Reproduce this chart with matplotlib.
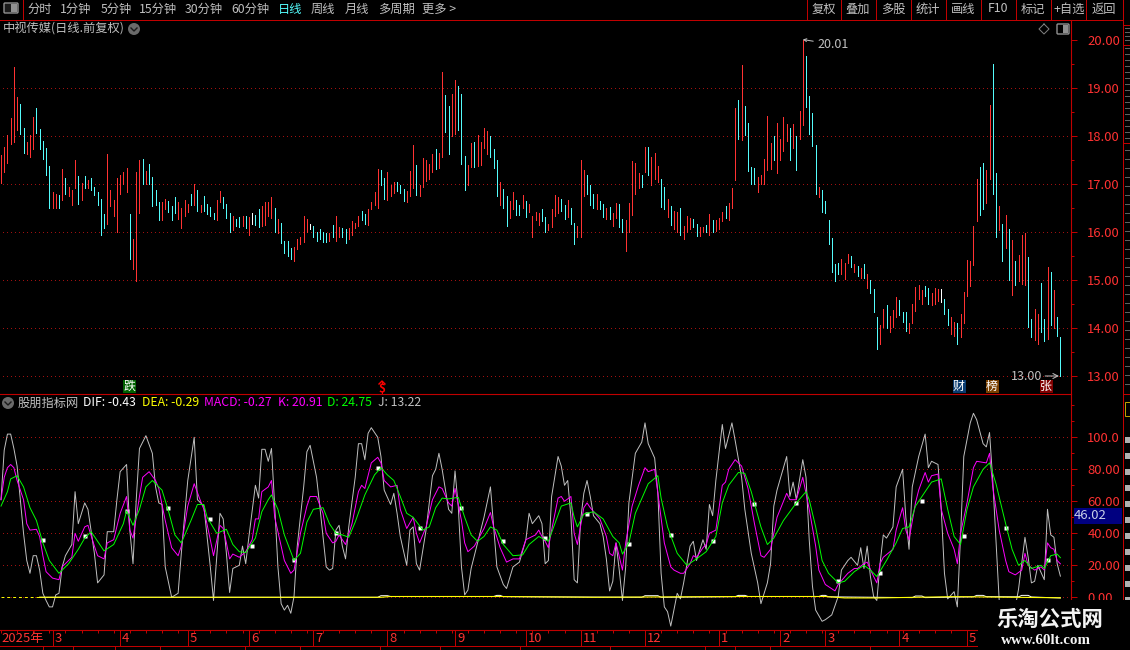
import matplotlib
matplotlib.use("Agg")
import matplotlib.pyplot as plt
from matplotlib.patches import Rectangle, Circle, FancyBboxPatch
from matplotlib.ticker import FixedLocator, FixedFormatter, MultipleLocator

plt.rcParams['font.family'] = ['Noto Sans CJK SC', 'DejaVu Sans']

# 日线 high / low / colour, one entry per bar
highs = [
    17.61, 17.78, 18.03, 18.38, 19.44, 18.82, 18.67, 18.17, 17.88, 18.03,
    18.40, 18.59, 18.15, 17.90, 17.76, 17.38, 16.84, 16.80, 16.78, 17.32,
    17.13, 16.94, 16.88, 17.49, 17.17, 17.03, 17.17, 17.09, 17.13, 16.94,
    16.84, 16.69, 16.38, 17.63, 16.88, 16.67, 17.13, 17.19, 17.26, 17.34,
    16.38, 15.86, 17.26, 17.49, 17.53, 17.28, 17.42, 17.15, 16.88, 16.63,
    16.63, 16.69, 16.65, 16.55, 16.72, 16.63, 16.51, 16.67, 16.59, 16.80,
    16.99, 16.88, 16.57, 16.76, 16.59, 16.53, 16.40, 16.67, 16.86, 16.72,
    16.59, 16.40, 16.34, 16.28, 16.32, 16.34, 16.34, 16.32, 16.40, 16.36,
    16.47, 16.55, 16.63, 16.63, 16.72, 16.51, 16.28, 16.19, 15.82, 15.82,
    15.67, 15.69, 15.86, 15.90, 16.34, 16.28, 16.17, 16.13, 15.99, 16.07,
    16.01, 15.97, 15.97, 16.15, 16.34, 16.11, 16.09, 16.07, 16.09, 16.22,
    16.19, 16.34, 16.44, 16.38, 16.47, 16.63, 16.84, 17.32, 17.30, 17.13,
    17.24, 16.97, 17.05, 17.05, 16.97, 16.90, 16.86, 17.28, 17.82, 17.40,
    16.97, 17.55, 17.49, 17.42, 17.63, 17.72, 17.65, 19.34, 18.86, 18.63,
    18.88, 19.17, 19.05, 18.88, 17.59, 17.40, 17.86, 17.88, 18.03, 17.88,
    18.17, 18.11, 17.99, 17.72, 17.51, 17.05, 16.90, 16.76, 16.65, 16.84,
    16.67, 16.57, 16.78, 16.65, 16.59, 16.34, 16.42, 16.40, 16.47, 16.32,
    16.17, 16.47, 16.78, 16.72, 16.69, 16.57, 16.67, 16.49, 16.19, 16.13,
    17.49, 17.30, 17.19, 16.97, 16.80, 16.80, 16.65, 16.59, 16.49, 16.53,
    16.40, 16.61, 16.59, 16.28, 16.26, 16.61, 17.47, 17.44, 17.22, 17.19,
    17.78, 17.78, 17.57, 17.65, 17.38, 17.11, 16.94, 16.69, 16.55, 16.44,
    16.42, 16.49, 16.13, 16.34, 16.30, 16.28, 16.17, 16.11, 16.11, 16.15,
    16.38, 16.26, 16.26, 16.30, 16.42, 16.55, 16.61, 16.92, 18.59, 18.74,
    19.47, 18.63, 18.28, 17.36, 17.34, 17.15, 17.19, 17.53, 18.42, 17.86,
    17.99, 18.28, 17.94, 18.40, 18.26, 18.17, 18.26, 18.01, 18.53, 20.01,
    19.67, 18.84, 18.47, 17.82, 16.94, 16.88, 16.65, 16.26, 15.88, 15.34,
    15.36, 15.44, 15.36, 15.55, 15.49, 15.34, 15.30, 15.24, 15.34, 15.13,
    15.01, 14.82, 14.22, 14.07, 14.40, 14.47, 14.26, 14.38, 14.65, 14.59,
    14.34, 14.34, 14.11, 14.51, 14.86, 14.90, 14.80, 14.88, 14.84, 14.72,
    14.84, 14.82, 14.82, 14.61, 14.40, 14.22, 14.13, 14.11, 14.30, 14.76,
    15.42, 15.40, 16.13, 17.11, 17.36, 17.44, 17.30, 18.65, 19.51, 17.22,
    16.55, 16.17, 16.36, 16.07, 15.84, 15.40, 15.53, 15.94, 15.97, 15.47,
    14.19, 14.40, 14.30, 14.94, 14.19, 15.28, 15.17, 14.80, 14.22, 13.82,
]
lows = [
    17.03, 17.26, 17.44, 17.84, 17.88, 18.13, 18.05, 17.65, 17.63, 17.57,
    17.72, 18.07, 17.72, 17.53, 17.19, 16.49, 16.49, 16.51, 16.49, 16.67,
    16.80, 16.74, 16.57, 16.92, 16.59, 16.67, 16.92, 16.92, 16.88, 16.78,
    16.57, 15.94, 16.09, 16.17, 16.55, 16.34, 15.99, 16.80, 16.99, 16.84,
    15.44, 15.22, 14.98, 16.40, 16.99, 17.01, 16.99, 16.55, 16.57, 16.26,
    16.26, 16.47, 16.42, 16.26, 16.40, 16.28, 16.09, 16.34, 16.42, 16.57,
    16.57, 16.44, 16.42, 16.44, 16.38, 16.34, 16.28, 16.26, 16.63, 16.51,
    16.30, 16.01, 16.05, 16.13, 16.11, 16.13, 16.09, 15.94, 16.17, 16.15,
    16.11, 16.13, 16.15, 16.34, 16.30, 15.99, 15.97, 15.78, 15.57, 15.49,
    15.44, 15.40, 15.65, 15.76, 15.80, 15.99, 16.07, 15.90, 15.82, 15.86,
    15.80, 15.80, 15.82, 15.90, 15.82, 15.90, 15.90, 15.78, 15.86, 15.94,
    16.09, 16.13, 16.24, 16.17, 16.15, 16.47, 16.57, 16.49, 16.97, 16.69,
    16.67, 16.76, 16.82, 16.86, 16.82, 16.65, 16.63, 16.74, 16.92, 16.78,
    16.74, 16.94, 17.07, 17.11, 17.24, 17.32, 17.34, 17.57, 18.09, 17.63,
    18.01, 18.05, 18.13, 17.42, 16.88, 16.97, 17.36, 17.36, 17.38, 17.40,
    17.74, 17.63, 17.57, 17.34, 16.74, 16.57, 16.51, 16.13, 16.30, 16.47,
    16.36, 16.36, 16.49, 16.32, 16.42, 15.90, 16.24, 16.15, 16.22, 15.99,
    16.05, 16.11, 16.34, 16.40, 16.44, 16.28, 16.32, 16.17, 15.74, 15.90,
    15.90, 16.74, 16.80, 16.57, 16.49, 16.47, 16.47, 16.32, 16.28, 16.28,
    16.13, 16.30, 16.11, 15.99, 15.61, 15.99, 16.36, 16.80, 16.92, 16.94,
    17.26, 17.19, 16.97, 17.11, 17.05, 16.53, 16.47, 16.32, 16.15, 16.07,
    16.01, 15.94, 15.86, 16.01, 16.07, 16.11, 15.92, 15.92, 16.01, 16.01,
    15.94, 16.01, 16.03, 16.07, 16.22, 16.30, 16.24, 16.49, 17.09, 17.94,
    17.92, 18.03, 17.28, 16.99, 16.99, 16.84, 17.01, 17.01, 17.30, 17.32,
    17.51, 17.22, 17.51, 17.69, 17.90, 17.49, 17.74, 17.30, 17.94, 18.22,
    18.61, 18.05, 17.80, 16.80, 16.72, 16.42, 16.40, 15.74, 15.17, 14.97,
    15.13, 15.13, 15.03, 15.36, 15.28, 15.17, 15.09, 15.05, 15.05, 14.84,
    14.72, 14.34, 13.57, 13.67, 14.03, 14.01, 13.92, 14.03, 14.22, 14.28,
    14.13, 13.94, 13.90, 14.11, 14.36, 14.61, 14.49, 14.67, 14.51, 14.47,
    14.51, 14.57, 14.55, 14.30, 14.07, 13.88, 13.84, 13.67, 13.82, 14.11,
    14.67, 14.88, 15.32, 16.22, 16.36, 16.47, 16.61, 17.11, 16.80, 15.90,
    16.05, 15.40, 15.67, 14.99, 14.69, 14.90, 14.97, 14.92, 14.90, 14.03,
    13.82, 13.74, 13.67, 13.92, 13.72, 13.78, 14.07, 13.99, 13.84, 13.00,
]
bar_kinds = (
    "RRRRRRCCRR" "RCCCCCRRCR" "CRRRCRCRCC" "CCCRRRRRRR" "CRRRCRCCCC"
    "RRCCCRRRRC" "RCRCCCCRRC" "CCRCCRCRWC" "CRRRRCRCCC" "CRRRRRWCCC"
    "CCRCRRCCRR" "RRCCRRRRCC" "RRRCCCRRRC" "RRRRRCRRCC" "RRCCCRRCRR"
    "RRCCCRCCRR" "CCRCRRRRCC" "RRRRCCRCCR" "RRCCCRCCRC" "RRCCRRRRRC"
    "RCRRRCCRCR" "RCRRRCCRRC" "RCRRRCRRRC" "RCCCCRRRRR" "CRRRRCRCRR"
    "CCCCRCCCCC" "CRRRCRCRCR" "CCCRRCRRRC" "CCRRRRRCCR" "RRWCCRRCRR"
    "RRRRCCRRCC" "RCRCRCRRRC" "CRRCCRCRCC"
)
price_ticks = [13, 14, 15, 16, 17, 18, 19, 20]

# KDJ read at the turning points
j_bars = [0, 1, 2, 3, 4, 5, 6, 7, 8, 9, 10, 11, 12, 13, 14, 15, 16, 17, 18, 19, 20, 22, 23, 24, 26, 27, 29, 30, 32, 33, 35, 36, 37, 39, 40, 41, 42, 43, 45, 47, 48, 49, 50, 51, 53, 55, 56, 58, 60, 61, 63, 65, 66, 68, 69, 70, 71, 72, 74, 75, 76, 77, 79, 80, 81, 82, 83,
          84, 85, 86, 87, 88, 89, 90, 91, 92, 94, 95, 96, 98, 99, 100, 101, 102, 103, 104, 105, 106, 107, 108, 110, 111, 112, 113, 114, 115, 117, 118, 119, 121, 122, 123, 124, 126, 127, 128, 129, 130, 132, 134, 135, 136, 137, 139, 140, 141, 142, 143, 144, 145, 146, 148, 150, 152, 153, 154, 156, 157, 159, 161, 163, 164, 165, 167,
          168, 169, 170, 171, 173, 174, 175, 176, 177, 178, 179, 180, 181, 182, 183, 184, 186, 187, 188, 189, 190, 191, 192, 193, 194, 195, 197, 199, 200, 201, 203, 204, 205, 206, 207, 208, 210, 211, 212, 214, 215, 216, 218, 219, 220, 221, 222, 224, 225, 227, 228, 230, 231, 233, 235, 236, 238, 239, 240, 241, 244, 245, 246, 247, 249, 250, 251,
          252, 253, 255, 256, 258, 260, 261, 263, 264, 266, 267, 268, 269, 270, 271, 272, 273, 274, 275, 277, 278, 280, 281, 282, 283, 285, 287, 288, 289, 291, 292, 293, 294, 296, 297, 298, 299, 301, 302, 303, 305, 306, 307, 308, 309, 310, 312, 314, 315, 316, 318, 319, 320, 321, 322, 324, 325, 326, 327, 328, 329]
j_vals = [61, 92, 102, 102, 93, 82, 61, 40, 23, 15, 26, 26, 17, 2.5, -2, -6, -6, 1.5, 2.5, 19, 26, 33, 66, 46, 59, 55, 27.5, 9, 14, 41, 41, 61, 78.5, 83, 42, 21, 61, 93, 101, 90, 69, 59, 58, 19, 0, 2.5, 27.5, 73, 100, 61, 57, 19, -2, 52.5, 49, 27.5, 3, 18, 20, 32, 21, 38, 70, 62, 92.5, 92.5, 85,
          93, 57, 19, -4, -8, -5, -10, 0.5, 32, 69, 91, 95, 75, 57, 38, 19, 17, 18, 42, 45, 32, 24, 44, 75, 96, 96, 86, 102.5, 106, 100, 88, 67, 58, 65, 52.5, 38, 20, 42, 44, 21, 17, 42, 76, 80, 90, 80, 55, 52.5, 79, 57, 19, 1.5, 4.5, 18, 34, 50, 69, 44, 19, 8, 5.5, 19, 22, 36, 52.5, 46, 51,
          46, 21, 23, 63, 88, 82, 70, 73, 50, 11, 9, 48, 65, 73, 63, 51, 46, 38, 24, 4, 10, 34, 17, -2, 19, 59, 90, 97, 109, 96, 87, 65, 15, -6, -9, -18, 2.5, -1, 9, 32, 35, 23, 36, 30, 58, 51, 73, 108, 93, 109, 98, 75, 55, 27.5, 9, -4, 9, 21, 57, 67, 88, 63, 72, 61, 86, 75, 36,
          7, -8, -15, -14, -11, 0.5, 17, 23, 25, 20, 31, 18, 32, 13, 0.5, -2, 21, 39, 37, 44, 69, 80, 50, 30, 69, 88, 102, 81, 85, 83, 55, 15, -1, 3.5, -6, 38, 88, 109, 115, 111, 96, 94, 103, 73, 36, -2, -12, -12, -6, 5, 37.5, 25, 9, 10, 20, 11, 55, 39, 37.5, 21, 13.22]
k_bars = [0, 1, 2, 3, 4, 5, 7, 8, 9, 11, 12, 13, 14, 16, 18, 19, 22, 23, 24, 26, 27, 29, 30, 32, 33, 35, 37, 39, 40, 41, 43, 44, 46, 48, 49, 51, 53, 55, 56, 58, 60, 62, 63, 65, 66, 68, 69, 70, 71, 72, 74, 76, 78, 79, 80, 81, 83,
          84, 85, 88, 89, 90, 91, 93, 95, 96, 98, 100, 101, 103, 104, 105, 107, 109, 111, 112, 113, 115, 117, 118, 119, 121, 123, 124, 126, 128, 129, 130, 132, 134, 136, 137, 139, 140, 141, 143, 144, 145, 147, 150, 152, 153, 155, 157, 159, 161, 163, 165, 166, 167,
          168, 169, 170, 171, 173, 174, 175, 177, 178, 179, 181, 182, 183, 186, 188, 189, 190, 191, 193, 194, 196, 198, 200, 201, 203, 204, 206, 208, 209, 211, 212, 214, 215, 216, 218, 219, 220, 222, 224, 225, 226, 228, 230, 232, 234, 236, 237, 239, 241, 244, 245, 247, 249, 251,
          253, 254, 256, 259, 260, 263, 265, 266, 268, 269, 271, 272, 273, 274, 277, 278, 280, 281, 282, 284, 285, 287, 288, 289, 291, 292, 294, 296, 297, 298, 300, 302, 303, 306, 307, 308, 310, 312, 313, 315, 317, 318, 319, 321, 323, 324, 325, 326, 327, 328, 329]
k_vals = [61, 75, 81, 83, 81, 73, 61, 46, 42, 42.5, 38, 26, 16, 12, 11, 19, 25, 40, 35, 44, 45, 32, 26, 24, 34, 36, 52.5, 63, 42, 37, 63, 75, 78.5, 73, 68, 48, 31, 26, 32, 57, 71, 60, 55, 36, 26, 45, 43, 34, 24, 27, 25, 28.5, 36, 49, 49, 66, 69,
          73, 50, 23, 19, 15, 17, 40, 57, 63, 63, 52.5, 40, 34, 35, 39, 33, 46, 66, 70, 68, 84, 87.5, 84, 73, 69, 70, 55, 43, 50, 40, 34, 44, 61, 69, 68, 59, 57, 68, 48, 34, 28.5, 32, 43, 53, 44, 31, 22, 24, 24, 36, 38, 39, 42,
          38, 35, 31, 42, 62, 63, 60, 63, 40, 33, 56, 59, 56, 49, 38, 27.5, 26, 34, 17, 34, 57, 70, 81, 78.5, 80, 65, 34, 19, 17, 15, 15, 21, 26, 25, 31, 33, 40, 42, 70, 72, 80, 86, 82, 68, 46, 26, 25, 30, 50, 65, 61, 61, 75, 55,
          32, 17, 8, 4, 8, 15, 18, 18, 21, 22, 13, 9, 21, 25, 30, 42, 56, 42, 36, 59, 67, 78, 72, 76, 77, 55, 40, 30, 21, 40, 59, 81, 85, 84, 90, 69, 42, 23, 16, 14, 17, 27.5, 20, 17, 19, 17, 34, 31, 30, 23, 20.91]
d_bars = [0, 2, 3, 5, 7, 9, 11, 13, 15, 18, 21, 24, 26, 28, 30, 32, 35, 38, 39, 41, 43, 45, 47, 50, 52, 54, 56, 59, 61, 63, 64, 67, 70, 72, 74, 76, 79, 81, 83,
          84, 86, 88, 91, 93, 95, 97, 100, 102, 104, 106, 108, 110, 113, 116, 118, 120, 122, 124, 126, 128, 131, 133, 135, 137, 139, 142, 144, 146, 148, 150, 152, 154, 156, 159, 162, 164, 167,
          170, 172, 174, 177, 178, 179, 181, 184, 187, 190, 192, 193, 195, 197, 201, 204, 205, 207, 210, 213, 216, 219, 222, 224, 226, 229, 231, 233, 236, 238, 240, 243, 247, 250, 251,
          253, 255, 257, 260, 262, 265, 268, 270, 272, 275, 278, 280, 282, 284, 287, 289, 292, 294, 296, 298, 300, 302, 305, 307, 309, 312, 314, 316, 318, 320, 323, 324, 326, 328, 329]
d_vals = [57, 66, 74, 76, 69, 56, 48, 34, 23, 15, 21, 30, 37, 41, 35, 29, 33, 46, 54, 45, 55, 69, 73, 67, 54, 39, 34, 48, 58, 58, 50, 40, 42.5, 33, 28.5, 28, 37, 53.5, 61,
          64, 55, 39, 23, 27.5, 47, 55, 56, 46, 40, 39, 37.5, 47, 64, 76.5, 81, 76.5, 73, 63, 52.5, 50, 42, 44, 56, 62, 61.5, 62.5, 50, 39, 35, 38, 44, 42, 33, 26, 26.5, 33, 38,
          35, 46, 57, 59, 50, 44, 52, 53.5, 49, 38, 34, 27, 34, 52.5, 71, 76, 62, 44, 27.5, 20, 24, 28.5, 38, 59, 70, 78, 77.5, 66, 44, 33, 37, 48, 59, 66, 61,
          44, 23, 15, 9, 10, 16, 20, 17, 13, 23, 34, 43, 44, 57, 66, 72, 74, 55, 38, 33, 55, 69, 80, 84, 71, 46, 30, 20, 23, 18, 20, 18, 26, 27, 24.75]
# white squares, every 13 bars
mark_bars = [13, 26, 39, 52, 65, 78, 91, 104, 117, 130, 143, 156, 169, 182, 195, 208, 221, 234, 247, 260, 273, 286, 299, 312, 325]
mark_vals = [36, 38, 54, 56, 49, 32, 23, 40, 81, 43, 56, 35, 37, 52, 33, 39, 35, 58, 59, 10, 15, 60, 38.5, 43, 23]
# MACD lines hug the zero line on this scale
dea_start_bars = [0, 12]
dea_start_vals = [0, 0]
dea_bars = [12, 118, 121, 155, 184, 232, 256, 262, 272, 296, 329]
dea_vals = [0, 0, 0.5, 0.5, 0, 0.5, 0.5, -0.4, -0.4, 0.4, -0.29]
dif_bars = [12, 117, 118, 120, 121, 153, 154, 155, 156, 199, 200, 204, 205, 228, 229, 231, 232, 254, 255, 256, 257, 283, 284, 286, 287, 302, 303, 305, 306, 316, 317, 319, 320, 329]
dif_vals = [0, 0, 1, 1, 0.5, 0.5, 1.2, 1.2, 0.4, 0, 1, 1, 0, 0.4, 1.2, 1.2, 0.5, 0.5, 1.2, 1.2, 0.3, -0.2, 0.8, 0.8, -0.2, 0.3, 1.2, 1.2, 0.4, 0.3, 1.2, 1.2, 0.2, -0.43]
ind_ticks = [0, 20, 40, 60, 80, 100]
ind_labels = ["0.00", "20.00", "40.00", "60.00", "80.00", "100.0"]
month_bars = [16, 37, 58, 77, 97, 120, 141, 163, 180, 200, 223, 242, 256, 279, 300]
month_labels = ["3", "4", "5", "6", "7", "8", "9", "10", "11", "12", "1", "2", "3", "4", "5"]

menu_left = [("分时", 40), ("1分钟", 76), ("5分钟", 116), ("15分钟", 158), ("30分钟", 204), ("60分钟", 250),
             ("周线", 323), ("月线", 357), ("多周期", 396), ("更多 >", 439)]
menu_right = [("复权", 824), ("叠加", 858), ("多股", 893), ("统计", 928), ("画线", 963), ("F10", 998),
              ("标记", 1033), ("+自选", 1069), ("返回", 1104)]
menu_seps = [807, 841, 876, 911, 946, 981, 1016, 1051, 1086, 1123]
header_items = [("DIF: -0.43", 83, "#ffffff"), ("DEA: -0.29", 142, "#ffff00"), ("MACD: -0.27", 204, "#ff00ff"),
                ("K: 20.91", 278, "#ff00ff"), ("D: 24.75", 327, "#00ff00"), ("J: 13.22", 378, "#c0c0c0")]
badges = [("跌", 129.5, "#006000"), ("财", 959, "#0a3c70"), ("榜", 992, "#7a4000"), ("张", 1046, "#800000")]

RED = "#ff3232"
CYAN = "#54fcfc"
AXIS = "#c00000"
GRID = "#a01010"
GREY = "#c0c0c0"
kind_color = {"R": RED, "C": CYAN, "W": "#ffffff"}
LW = 0.72
DOTS = (0, (1, 3))


def place_axes(fig, x0, y0, x1, y1):
    """axes from pixel box, y counted from the top"""
    return fig.add_axes([x0 / 1130, 1 - y1 / 650, (x1 - x0) / 1130, (y1 - y0) / 650])


def setup_panel(ax, y_top, y_bottom):
    ax.set_facecolor("black")
    ax.set_xlim(-1 / 3.22, 1070 / 3.22)
    ax.set_ylim(y_bottom, y_top)
    for side in ["top", "left", "bottom"]:
        ax.spines[side].set_visible(False)
    ax.spines["right"].set_color(AXIS)
    ax.yaxis.tick_right()
    ax.tick_params(axis="y", which="major", length=4.3, width=LW, color=AXIS, labelcolor=RED, labelsize=9.4, pad=7.5)
    ax.tick_params(axis="y", which="minor", length=2.2, width=LW, color=AXIS)


fig = plt.figure(figsize=(11.3, 6.5), dpi=100, facecolor="black")

# price panel
ax = place_axes(fig, 0, 20, 1071, 394)
setup_panel(ax, 20.4167, 12.625)
ax.hlines(price_ticks[:-1], -1, 333, color=GRID, lw=LW, linestyle=DOTS, antialiased=False, zorder=1)
bar_x = list(range(len(highs)))
ax.vlines(bar_x, lows, highs, colors=[kind_color[k] for k in bar_kinds], lw=LW, antialiased=False, zorder=2)
ax.yaxis.set_major_locator(FixedLocator(price_ticks))
ax.yaxis.set_major_formatter(FixedFormatter(["%.2f" % p for p in price_ticks]))
ax.yaxis.set_minor_locator(MultipleLocator(0.5))
ax.set_xticks([])
ax.annotate("20.01", xy=(249, highs[249]), xytext=(10.5, -3.5), textcoords="offset points", color=GREY, fontsize=9,
            va="center", arrowprops=dict(arrowstyle="->", color=GREY, lw=LW, shrinkA=1, shrinkB=0, mutation_scale=5))
ax.annotate("13.00", xy=(329, lows[329]), xytext=(-13, 0), textcoords="offset points", color=GREY, fontsize=9,
            va="center", ha="right", arrowprops=dict(arrowstyle="->", color=GREY, lw=LW, shrinkA=0, shrinkB=1))

# indicator panel
ax2 = place_axes(fig, 0, 394, 1071, 630)
setup_panel(ax2, 127.06, -20.44)
ax2.hlines(ind_ticks, -1, 333, color=GRID, lw=LW, linestyle=DOTS, antialiased=False, zorder=1)
ax2.plot(j_bars, j_vals, color=GREY, lw=0.7, zorder=2)
ax2.plot(dif_bars, dif_vals, color="#ffffff", lw=0.7, zorder=3)
ax2.plot(dea_start_bars, dea_start_vals, color="#ffff00", lw=0.7, linestyle=(0, (3, 3)), zorder=4)
ax2.plot(dea_bars, dea_vals, color="#ffff00", lw=0.8, zorder=4)
ax2.plot(mark_bars, mark_vals, ls="none", marker="s", ms=3.4, mfc="#ffffff", mec="none", zorder=5)
ax2.plot(k_bars, k_vals, color="#ff00ff", lw=0.7, zorder=6)
ax2.plot(d_bars, d_vals, color="#00ff00", lw=0.7, zorder=7)
ax2.yaxis.set_major_locator(FixedLocator(ind_ticks))
ax2.yaxis.set_major_formatter(FixedFormatter(ind_labels))
ax2.yaxis.set_minor_locator(MultipleLocator(10))
ax2.set_xticks(month_bars)
ax2.set_xticklabels([])
ax2.xaxis.set_minor_locator(MultipleLocator(5))
ax2.tick_params(axis="x", which="major", length=11.5, width=LW, color=AXIS)
ax2.tick_params(axis="x", which="minor", length=2.5, width=LW, color=AXIS)
ax2.spines["bottom"].set_visible(True)
ax2.spines["bottom"].set_color(AXIS)
ax2.spines["top"].set_visible(True)
ax2.spines["top"].set_color(AXIS)
tr = ax2.get_xaxis_transform()
for b, lab in zip(month_bars, month_labels):
    ax2.text(b + 0.6, -8.5 / 236, lab, transform=tr, color=RED, fontsize=9.4, va="center", ha="left", clip_on=False)
ax2.text(-0.0, -8.5 / 236, "2025年", transform=tr, color=RED, fontsize=9.4, va="center", ha="left", clip_on=False)

# window furniture drawn in pixel coordinates on top
ui = fig.add_axes([0, 0, 1, 1], zorder=10)
ui.set_xlim(0, 1130)
ui.set_ylim(650, 0)
ui.axis("off")
ui.patch.set_alpha(0)


def ui_text(x, y, s, color=GREY, ha="left", size=8.8, **kw):
    ui.text(x, y, s, color=color, ha=ha, va="center", fontsize=size, **kw)


ui.hlines(19.5, 0, 1123, color=AXIS, lw=LW, antialiased=False)
ui.vlines([23] + menu_seps, 0, 19.5, color=AXIS, lw=LW, antialiased=False)
ui.add_patch(FancyBboxPatch((5, 4), 12, 8, boxstyle="round,pad=1", fc="#1a1a1a", ec="#909090", lw=1))
ui.add_patch(Rectangle((11, 4), 6, 8, fc="#909090", ec="none"))
for s, x in menu_left:
    ui_text(x, 9, s, ha="center")
ui_text(290, 9, "日线", color=CYAN, ha="center")
for s, x in menu_right:
    ui_text(x, 9, s, ha="center")

ui_text(3, 29, "中视传媒(日线.前复权)")
for cx, cy in [(134, 29), (8, 403)]:
    ui.add_patch(Circle((cx, cy), 6, fc="#6a6a6a", ec="none"))
    ui.plot([cx - 3, cx, cx + 3], [cy - 1, cy + 2, cy - 1], color="#1a1a1a", lw=1)
ui.plot([1044, 1049, 1044, 1039, 1044], [24, 29, 34, 29, 24], color="#808080", lw=LW)
ui.add_patch(FancyBboxPatch((1058, 25), 10, 8, boxstyle="round,pad=1", fc="#000000", ec="#909090", lw=1))
ui.add_patch(Rectangle((1063, 25), 5, 8, fc="#909090", ec="none"))

for s, x, c in badges:
    ui.add_patch(Rectangle((x - 6.5, 380), 13, 13, fc=c, ec="none"))
    ui_text(x, 386.5, s, color="#ffffff", ha="center", size=8.6)
ui_text(382, 388, "$", color="#ff0000", ha="center", size=8.6, fontweight="bold")
ui.plot([379, 382, 385], [384, 381, 384], color="#ff0000", lw=1)

ui_text(18, 403, "股朋指标网")
for s, x, c in header_items:
    ui_text(x, 403, s, color=c)

# current value tag and second rule on the right
ui.add_patch(Rectangle((1073.5, 507.5), 48.5, 16, fc="#000080", ec="none"))
ui_text(1074, 515.5, "46.02", color="#c8d0e8", size=9.4)
ui.vlines(1123, 0, 600, color=AXIS, lw=LW, antialiased=False)
ui.hlines([25, 45, 143, 394], 1123, 1130, color=AXIS, lw=LW, antialiased=False)
ui.hlines(646, 0, 978, color=AXIS, lw=LW, antialiased=False)
ui.vlines([43, 73, 115, 160, 245, 300, 380, 440, 520, 610, 705, 735, 770, 870], 646, 650, color=AXIS, lw=LW, antialiased=False)
ui.hlines(list(range(28, 44, 4)) + list(range(48, 140, 6)) + list(range(150, 390, 9)), 1125, 1130, color="#606060", lw=LW, antialiased=False)
ui.hlines(list(range(440, 610, 16)), 1125, 1130, color="#b0b0b0", lw=3, antialiased=False)
ui.add_patch(Rectangle((1125, 402), 5, 14, fc="none", ec="#c0a000", lw=LW))

# watermark
ui.add_patch(Rectangle((978, 600), 152, 50, fc="black", ec="none", zorder=5))
ui.text(1050, 619, "乐淘公式网", color="#f4f4f4", fontsize=15.4, fontweight="bold", ha="center", va="center", zorder=6)
ui.text(1046, 641, "www.60lt.com", color="#f4f4f4", fontsize=10.8, fontweight="bold", family="Liberation Serif",
        ha="center", va="center", zorder=6)

fig.savefig("out.png", dpi=100, facecolor="black")
